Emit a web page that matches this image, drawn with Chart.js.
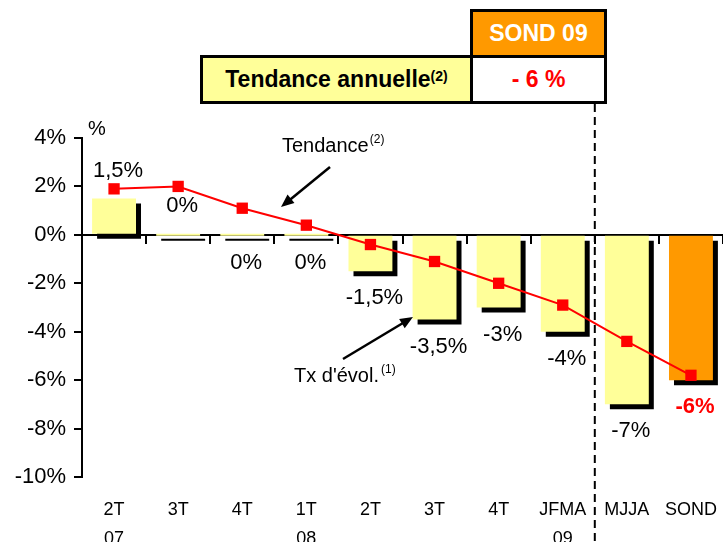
<!DOCTYPE html>
<html>
<head>
<meta charset="utf-8">
<script src="https://cdn.jsdelivr.net/npm/chart.js@4/dist/chart.umd.min.js"></script>
<style>
    body { margin: 0; background: #fff; }
    #wrap { position: relative; width: 723px; height: 542px; overflow: hidden; }
    .cell {
        position: absolute;
        box-sizing: border-box;
        border: 3px solid #000;
        font-family: 'Liberation Sans', Arial, sans-serif;
        font-weight: bold;
        font-size: 23px;
        display: flex;
        align-items: center;
        justify-content: center;
    }
    .cell sup { font-size: 14px; position: relative; top: -4px; }
</style>
</head>
<body>
<div id="wrap">
    <canvas id="chart"></canvas>
    <div class="cell" style="left:470px; top:9px; width:137px; height:49px; background:#FF9900; color:#fff;">SOND 09</div>
    <div class="cell" style="left:200px; top:55px; width:273px; height:49px; background:#FFFF99; color:#000;">Tendance annuelle<sup>(2)</sup></div>
    <div class="cell" style="left:470px; top:55px; width:137px; height:49px; background:#fff; color:#FF0000;">- 6 %</div>
</div>
<script>
// Data
const categories = [['2T', '07'], '3T', '4T', ['1T', '08'], '2T', '3T', '4T', ['JFMA', '09'], 'MJJA', 'SOND'];
const evolution = [1.5, 0, 0, 0, -1.5, -3.5, -3, -4, -7, -6];        // Tx d'évol. (bars)
const tendance = [1.9, 2.0, 1.1, 0.4, -0.4, -1.1, -2.0, -2.9, -4.4, -5.8]; // Tendance (line)
const evolutionLabels = ['1,5%', '0%', '0%', '0%', '-1,5%', '-3,5%', '-3%', '-4%', '-7%', '-6%'];
const labelAbove = [true, true, false, false, false, false, false, false, false, false];

const FONT = "'Liberation Sans', Arial, sans-serif";
const YELLOW = '#FFFF99';
const ORANGE = '#FF9900';
const RED = '#FF0000';

// Draws a black drop shadow behind the bars
const barShadow = {
    id: 'barShadow',
    beforeDatasetDraw(chart, args) {
        if (args.meta.type !== 'bar') return;
        const ctx = chart.ctx;
        ctx.save();
        ctx.shadowColor = '#000';
        ctx.shadowOffsetX = 5;
        ctx.shadowOffsetY = 5;
        ctx.shadowBlur = 0;
    },
    afterDatasetDraw(chart, args) {
        if (args.meta.type !== 'bar') return;
        chart.ctx.restore();
    }
};

function drawArrow(ctx, x1, y1, x2, y2) {
    const angle = Math.atan2(y2 - y1, x2 - x1);
    const head = 14;
    ctx.beginPath();
    ctx.moveTo(x1, y1);
    ctx.lineTo(x2 - Math.cos(angle) * head * 0.8, y2 - Math.sin(angle) * head * 0.8);
    ctx.stroke();
    ctx.beginPath();
    ctx.moveTo(x2, y2);
    ctx.lineTo(x2 - head * Math.cos(angle - 0.4), y2 - head * Math.sin(angle - 0.4));
    ctx.lineTo(x2 - head * Math.cos(angle + 0.4), y2 - head * Math.sin(angle + 0.4));
    ctx.closePath();
    ctx.fill();
}

// Value labels, annotations, dashed separator
const extras = {
    id: 'extras',
    afterDatasetsDraw(chart) {
        const ctx = chart.ctx;
        const xs = chart.scales.x;
        const bars = chart.getDatasetMeta(1).data;
        ctx.save();
        ctx.textAlign = 'center';
        ctx.textBaseline = 'middle';
        bars.forEach((bar, i) => {
            const top = Math.min(bar.y, bar.base);
            const bottom = Math.max(bar.y, bar.base);
            const y = labelAbove[i] ? top - 28 : bottom + 27;
            const last = i === bars.length - 1;
            ctx.font = (last ? 'bold ' : '') + '22px ' + FONT;
            ctx.fillStyle = last ? RED : '#000';
            ctx.fillText(evolutionLabels[i], bar.x + 4, y);
        });

        // dashed separator between JFMA and MJJA
        const sepX = (xs.getPixelForValue(7) + xs.getPixelForValue(8)) / 2;
        ctx.strokeStyle = '#000';
        ctx.lineWidth = 2;
        ctx.setLineDash([8, 5]);
        ctx.beginPath();
        ctx.moveTo(sepX, 104);
        ctx.lineTo(sepX, chart.height);
        ctx.stroke();
        ctx.setLineDash([]);

        // annotations
        ctx.fillStyle = '#000';
        ctx.textAlign = 'left';
        ctx.textBaseline = 'alphabetic';
        ctx.font = '20px ' + FONT;
        ctx.fillText('%', 88, 135);

        ctx.fillText('Tendance', 282, 152);
        let w = ctx.measureText('Tendance').width;
        ctx.font = '12px ' + FONT;
        ctx.fillText('(2)', 282 + w + 1, 143);

        ctx.font = '20px ' + FONT;
        ctx.fillText("Tx d'évol.", 294, 382);
        w = ctx.measureText("Tx d'évol.").width;
        ctx.font = '12px ' + FONT;
        ctx.fillText('(1)', 294 + w + 2, 373);

        ctx.lineWidth = 2.5;
        drawArrow(ctx, 330, 167, 281, 207);
        drawArrow(ctx, 343, 359, 413, 317);
        ctx.restore();
    }
};

const ctx = document.getElementById('chart').getContext('2d');
new Chart(ctx, {
    data: {
        labels: categories,
        datasets: [{
            type: 'line',
            label: 'Tendance',
            data: tendance,
            borderColor: RED,
            backgroundColor: RED,
            borderWidth: 2,
            pointStyle: 'rect',
            pointRadius: 8,
            pointBorderWidth: 0,
            order: 0
        }, {
            type: 'bar',
            label: "Tx d'évol.",
            data: evolution,
            backgroundColor: c => c.dataIndex === evolution.length - 1 ? ORANGE : YELLOW,
            categoryPercentage: 1,
            barPercentage: 0.685,
            minBarLength: 2,
            order: 1
        }]
    },
    options: {
        responsive: true,
        maintainAspectRatio: false,
        animation: false,
        layout: { autoPadding: false, padding: { top: 138, bottom: 0, left: 0, right: 0 } },
        plugins: {
            legend: { display: false },
            tooltip: { enabled: false }
        },
        scales: {
            x: {
                type: 'category',
                position: 'bottom',
                offset: true,
                grid: { display: false, drawTicks: false },
                border: { display: false },
                afterFit: s => { s.height = 65; s.paddingLeft = 0; s.paddingRight = 0; },
                ticks: {
                    color: '#000',
                    padding: 19,
                    maxRotation: 0,
                    autoSkip: false,
                    font: { family: FONT, size: 18, lineHeight: 1.6 }
                }
            },
            // zero line with category tick marks
            x2: {
                type: 'category',
                labels: categories,
                position: { y: 0 },
                offset: true,
                afterFit: s => { s.paddingLeft = 0; s.paddingRight = 0; },
                grid: { offset: true, drawOnChartArea: false, tickLength: 8, color: '#000', lineWidth: 2 },
                border: { color: '#000', width: 2 },
                ticks: { display: false }
            },
            y: {
                position: 'left',
                min: -10,
                max: 4,
                afterFit: s => { s.width = 82; },
                grid: { drawOnChartArea: false, tickLength: 8, color: '#000', lineWidth: 2 },
                border: { color: '#000', width: 2 },
                ticks: {
                    stepSize: 2,
                    color: '#000',
                    padding: 8,
                    font: { family: FONT, size: 22 },
                    callback: v => v + '%'
                }
            }
        }
    },
    plugins: [barShadow, extras]
});
</script>
</body>
</html>
